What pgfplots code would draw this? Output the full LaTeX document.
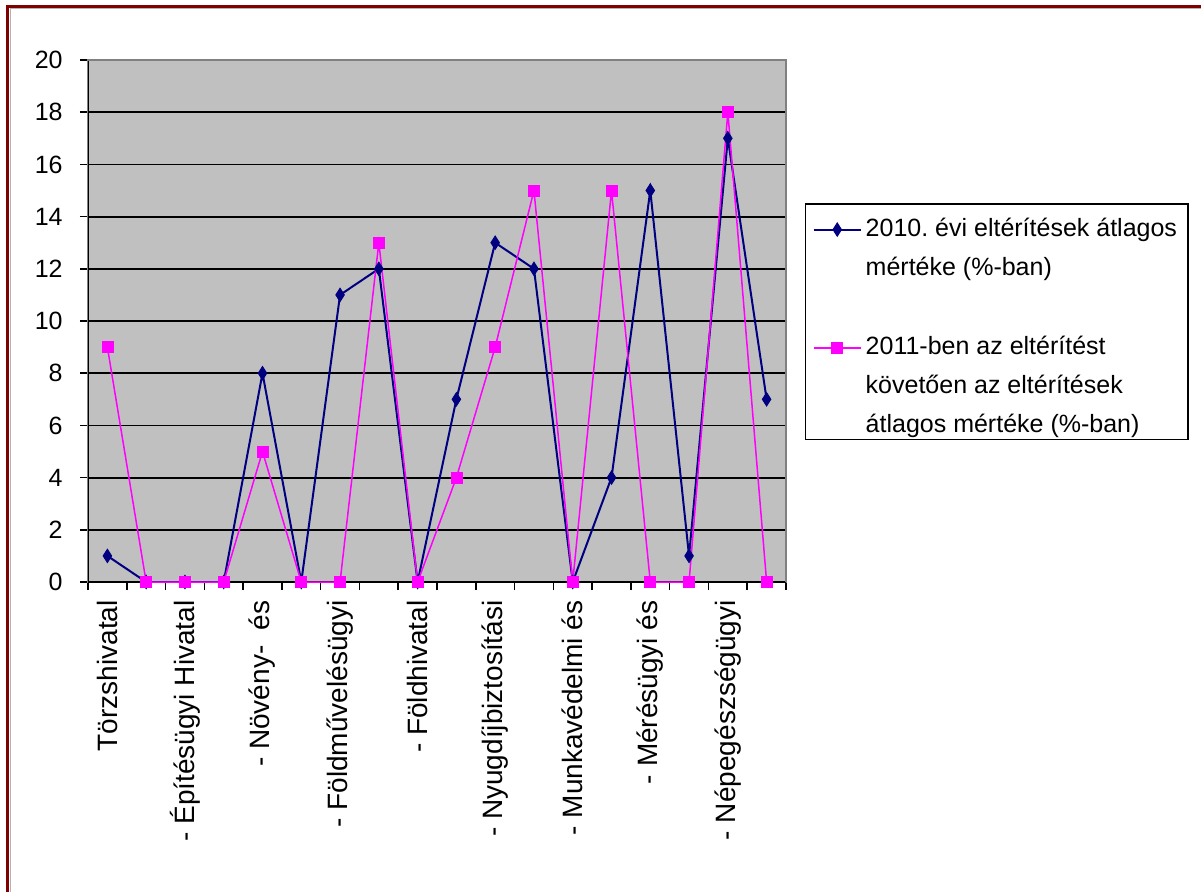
\documentclass[border=0pt]{standalone}
\usepackage{pgfplots}
\pgfplotsset{compat=1.18}
\usepackage{fontspec}
\setmainfont{Liberation Sans}
\frenchspacing
\definecolor{navy}{RGB}{0,0,128}
\definecolor{mag}{RGB}{255,0,255}
\definecolor{plotbg}{RGB}{192,192,192}
\definecolor{framered}{RGB}{128,0,0}
\begin{document}
\begin{tikzpicture}
\path[use as bounding box] (0,0) rectangle (600.5pt,-446pt);
\fill[white] (0,0) rectangle (600.5pt,-446pt);
\draw[framered, line width=1.5pt] (3.75pt,-446pt) -- (3.75pt,-3.25pt) -- (600.5pt,-3.25pt);
\draw[gray!60, line width=0.5pt] (5pt,-446pt) -- (5pt,-4.5pt) -- (600.5pt,-4.5pt);
\begin{axis}[
  at={(44pt,-291pt)}, anchor=south west,
  scale only axis, width=349pt, height=261pt,
  xmin=0, xmax=18, ymin=0, ymax=20,
  axis background/.style={fill=plotbg},
  axis line style={draw=gray, line width=1pt},
  ytick={0,2,...,20},
  ymajorgrids, major grid style={black, line width=0.9pt},
  xtick={0,1,...,18},
  xticklabels={},
  extra x ticks={0.5,2.5,...,16.5},
  extra x tick labels={Törzshivatal,- Építésügyi Hivatal,- Növény-\ \ és,- Földművelésügyi,- Földhivatal,- Nyugdíjbiztosítási,- Munkavédelmi és,- Mérésügyi és,- Népegészségügyi},
  extra x tick style={major tick length=0pt, xticklabel style={rotate=90, anchor=east, inner sep=0pt, font=\fontsize{14}{16}\selectfont}},
  xticklabel shift=9pt,
  tick pos=left,
  tick align=outside,
  major tick length=4pt,
  tick style={black, line width=0.75pt},
  yticklabel style={inner sep=0pt, font=\fontsize{12.5}{15}\selectfont},
  yticklabel shift=8.5pt,
  /pgf/number format/assume math mode=true,
  legend style={at={(1.0272,0.726)}, anchor=north west, draw=black, line width=0.75pt, fill=white,
    font=\fontsize{12.5}{19.5}\selectfont, cells={anchor=base west},
    row sep=22.5pt, inner xsep=3.5pt, inner ysep=5pt},
  legend image code/.code={\draw[mark repeat=2, mark phase=2, yshift=0.33em, #1] plot coordinates {(0pt,0pt) (11.75pt,0pt) (23.5pt,0pt)};},
]
\draw[black, line width=1pt] (axis cs:0,20) -- (axis cs:0,0) -- (axis cs:18,0);
\draw[gray, line width=1pt] (axis cs:0,20) -- (axis cs:18,20) -- (axis cs:18,0);
\addplot[navy, line width=1pt, mark=diamond*, mark size=3.3pt, mark options={solid, fill=navy, draw=navy, xscale=0.85, line width=0.5pt}]
  coordinates {(0.5,1) (1.5,0) (2.5,0) (3.5,0) (4.5,8) (5.5,0) (6.5,11) (7.5,12) (8.5,0) (9.5,7) (10.5,13) (11.5,12) (12.5,0) (13.5,4) (14.5,15) (15.5,1) (16.5,17) (17.5,7)};
\addlegendentry[text depth=23.5pt]{\vtop{\hbox{2010. évi eltérítések átlagos}\hbox{mértéke (\%-ban)}}}
\addplot[mag, line width=0.75pt, mark=square*, mark size=2.75pt, mark options={solid, fill=mag, draw=mag, line width=0.3pt}]
  coordinates {(0.5,9) (1.5,0) (2.5,0) (3.5,0) (4.5,5) (5.5,0) (6.5,0) (7.5,13) (8.5,0) (9.5,4) (10.5,9) (11.5,15) (12.5,0) (13.5,15) (14.5,0) (15.5,0) (16.5,18) (17.5,0)};
\addlegendentry[text depth=35.5pt]{\vtop{\hbox{2011-ben az eltérítést}\hbox{követően az eltérítések}\hbox{átlagos mértéke (\%-ban)}}}
\end{axis}
\end{tikzpicture}
\end{document}
